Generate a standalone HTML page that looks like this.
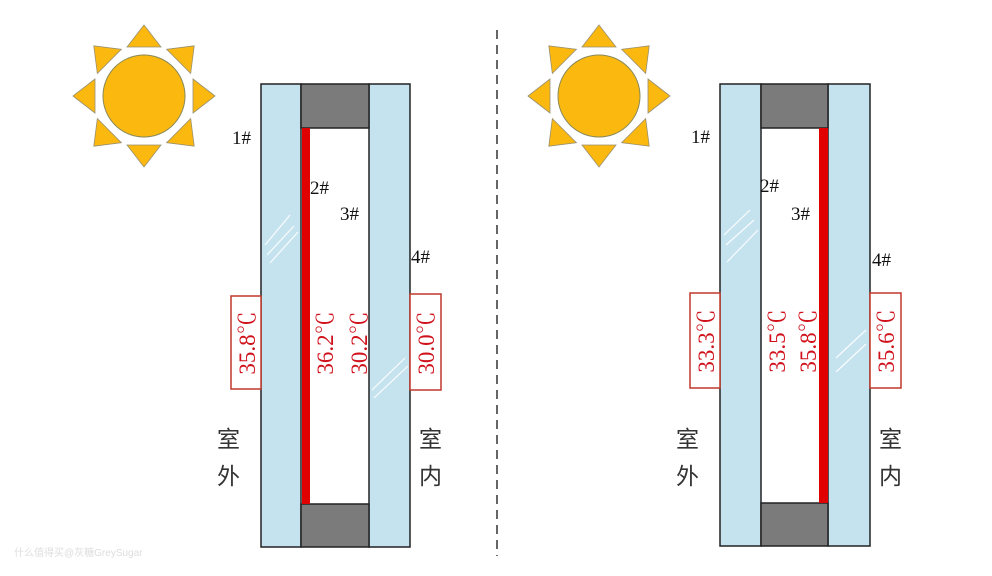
<!DOCTYPE html>
<html><head><meta charset="utf-8"><style>body{margin:0;background:#fff}svg{display:block}</style></head><body>
<svg width="992" height="576" xmlns="http://www.w3.org/2000/svg" font-family="'Liberation Serif','Noto Serif CJK SC',serif">
<defs>
<g id="sun">
<circle r="41" fill="#fbb80f" stroke="#8a8a5a" stroke-width="1"/>
<g fill="#fbb80f" stroke="#9a9070" stroke-width="0.8">
<polygon points="0,-71 -17,-49 17,-49" transform="rotate(0)"/>
<polygon points="0,-71 -17,-49 17,-49" transform="rotate(45)"/>
<polygon points="0,-71 -17,-49 17,-49" transform="rotate(90)"/>
<polygon points="0,-71 -17,-49 17,-49" transform="rotate(135)"/>
<polygon points="0,-71 -17,-49 17,-49" transform="rotate(180)"/>
<polygon points="0,-71 -17,-49 17,-49" transform="rotate(225)"/>
<polygon points="0,-71 -17,-49 17,-49" transform="rotate(270)"/>
<polygon points="0,-71 -17,-49 17,-49" transform="rotate(315)"/>
</g></g>
</defs>
<use href="#sun" x="144" y="96"/>
<use href="#sun" x="599" y="96"/>
<line x1="497" y1="30" x2="497" y2="556" stroke="#333" stroke-width="1.5" stroke-dasharray="9,6"/>

<!-- left unit -->
<rect x="261" y="84" width="40" height="463" fill="#c5e3ee" stroke="#222" stroke-width="1.5"/>
<rect x="369" y="84" width="41" height="463" fill="#c5e3ee" stroke="#222" stroke-width="1.5"/>
<rect x="301" y="84" width="68" height="44" fill="#7b7b7b" stroke="#222" stroke-width="1.5"/>
<rect x="301" y="504" width="68" height="43" fill="#7b7b7b" stroke="#222" stroke-width="1.5"/>
<rect x="302" y="128" width="8" height="376" fill="#e00000"/>
<g stroke="#fff" stroke-width="1.2" opacity="0.9"><line x1="265" y1="245" x2="290" y2="215"/><line x1="267" y1="255" x2="294" y2="226"/><line x1="270" y1="263" x2="298" y2="232"/>
<line x1="372" y1="390" x2="405" y2="358"/><line x1="374" y1="398" x2="408" y2="366"/></g>
<rect x="231" y="296" width="30" height="93" fill="#fff" stroke="#c0392b" stroke-width="1.5"/>
<rect x="410" y="294" width="31" height="96" fill="#fff" stroke="#c0392b" stroke-width="1.5"/>
<g fill="#d0101a" font-size="23" text-anchor="middle">
<text transform="translate(255,343) rotate(-90)">35.8℃</text>
<text transform="translate(333,343) rotate(-90)">36.2℃</text>
<text transform="translate(367,343) rotate(-90)">30.2℃</text>
<text transform="translate(434,343) rotate(-90)">30.0℃</text>
</g>
<g fill="#111" font-size="19">
<text x="232" y="144">1#</text><text x="310" y="194">2#</text><text x="340" y="220">3#</text><text x="411" y="263">4#</text>
</g>
<g fill="#333" font-size="23" font-family="'Noto Sans CJK SC',sans-serif">
<text x="217" y="447">室</text><text x="217" y="484">外</text>
<text x="419" y="447">室</text><text x="419" y="484">内</text>
</g>

<!-- right unit -->
<rect x="720" y="84" width="41" height="462" fill="#c5e3ee" stroke="#222" stroke-width="1.5"/>
<rect x="828" y="84" width="42" height="462" fill="#c5e3ee" stroke="#222" stroke-width="1.5"/>
<rect x="761" y="84" width="67" height="44" fill="#7b7b7b" stroke="#222" stroke-width="1.5"/>
<rect x="761" y="503" width="67" height="43" fill="#7b7b7b" stroke="#222" stroke-width="1.5"/>
<rect x="819" y="128" width="9" height="375" fill="#e00000"/>
<g stroke="#fff" stroke-width="1.2" opacity="0.9"><line x1="724" y1="235" x2="750" y2="210"/><line x1="726" y1="245" x2="754" y2="220"/><line x1="727" y1="262" x2="758" y2="230"/>
<line x1="836" y1="358" x2="866" y2="330"/><line x1="836" y1="372" x2="866" y2="344"/></g>
<rect x="690" y="293" width="30" height="95" fill="#fff" stroke="#c0392b" stroke-width="1.5"/>
<rect x="870" y="293" width="31" height="95" fill="#fff" stroke="#c0392b" stroke-width="1.5"/>
<g fill="#d0101a" font-size="23" text-anchor="middle">
<text transform="translate(714,341) rotate(-90)">33.3℃</text>
<text transform="translate(785,341) rotate(-90)">33.5℃</text>
<text transform="translate(816,341) rotate(-90)">35.8℃</text>
<text transform="translate(894,341) rotate(-90)">35.6℃</text>
</g>
<g fill="#111" font-size="19">
<text x="691" y="143">1#</text><text x="760" y="192">2#</text><text x="791" y="220">3#</text><text x="872" y="266">4#</text>
</g>
<g fill="#333" font-size="23" font-family="'Noto Sans CJK SC',sans-serif">
<text x="676" y="447">室</text><text x="676" y="484">外</text>
<text x="879" y="447">室</text><text x="879" y="484">内</text>
</g>
<text x="14" y="556" font-size="10" fill="#ddd" font-family="'Liberation Sans','Noto Sans CJK SC',sans-serif">什么值得买@灰糖GreySugar</text>
</svg>
</body></html>
